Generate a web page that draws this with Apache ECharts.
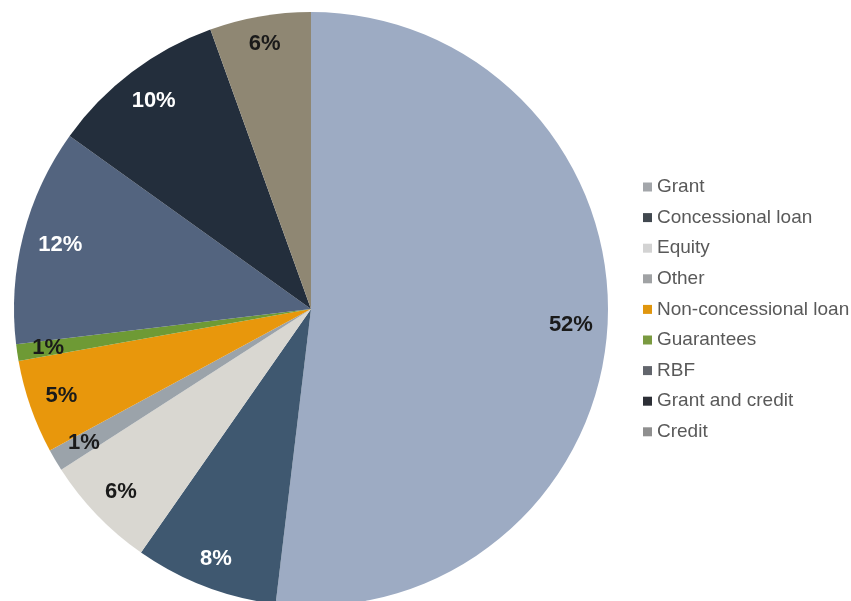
<!DOCTYPE html>
<html>
<head>
<meta charset="utf-8">
<script src="https://cdn.jsdelivr.net/npm/echarts@6/dist/echarts.min.js"></script>
<style>html,body{margin:0;padding:0;background:#fff}#c{width:851px;height:601px}</style>
</head>
<body>
<div id="c"></div>
<script>
var categories = ['Grant','Concessional loan','Equity','Other','Non-concessional loan','Guarantees','RBF','Grant and credit','Credit'];
var values = [51.9, 7.8, 6.2, 1.2, 5.1, 0.9, 11.8, 9.6, 5.5];

var colors = ['#9dabc3','#3f5870','#d9d7d1','#9ba3aa','#e8970c','#6e9a35','#53647f','#232e3c','#8f8773'];
var legendColors = ['#a3a6aa','#41484f','#d3d3d3','#a0a2a4','#e0960e','#7a9a40','#62656c','#2c2f36','#8f8f8f'];
var labelColors = ['#1a1a1a','#ffffff','#1a1a1a','#1a1a1a','#1a1a1a','#1a1a1a','#ffffff','#ffffff','#1a1a1a'];

var CX = 311, CY = 309, R = 297, PAD = 14;

var chart = echarts.init(document.getElementById('c'), null, {renderer:'canvas'});
var data = categories.map(function(n,i){
  return {name:n, value:values[i], itemStyle:{color:colors[i]}, label:{color:labelColors[i]}};
});
chart.setOption({
  animation:false,
  backgroundColor:'#fff',
  legend:{
    orient:'vertical', left:643, top:177, padding:0,
    itemWidth:9, itemHeight:9, itemGap:10.6,
    icon:'rect',
    textStyle:{fontFamily:'Liberation Sans, Arial', fontSize:19, color:'#595959', lineHeight:20},
    data:categories.map(function(n,i){return {name:n, itemStyle:{color:legendColors[i]}};})
  },
  series:[{
    type:'pie', center:[CX,CY], radius:[0,R], startAngle:90, clockwise:true,
    label:{show:true, position:'inside', fontFamily:'Liberation Sans, Arial', fontWeight:'bold', fontSize:22,
      formatter:function(p){return Math.round(p.value)+'%';}},
    labelLine:{show:false},
    emphasis:{disabled:true},
    labelLayout:function(p){
      var r = p.labelRect;
      var cx = r.x + r.width/2, cy = r.y + r.height/2;
      var dx = cx - CX, dy = cy - CY;
      var len = Math.sqrt(dx*dx+dy*dy) || 1;
      dx /= len; dy /= len;
      var support = Math.abs(dx)*r.width/2 + Math.abs(dy)*r.height/2;
      var rr = R - PAD - support;
      return {x: CX + dx*rr, y: CY + dy*rr, align:'center', verticalAlign:'middle'};
    },
    data:data
  }]
});
</script>
</body>
</html>
